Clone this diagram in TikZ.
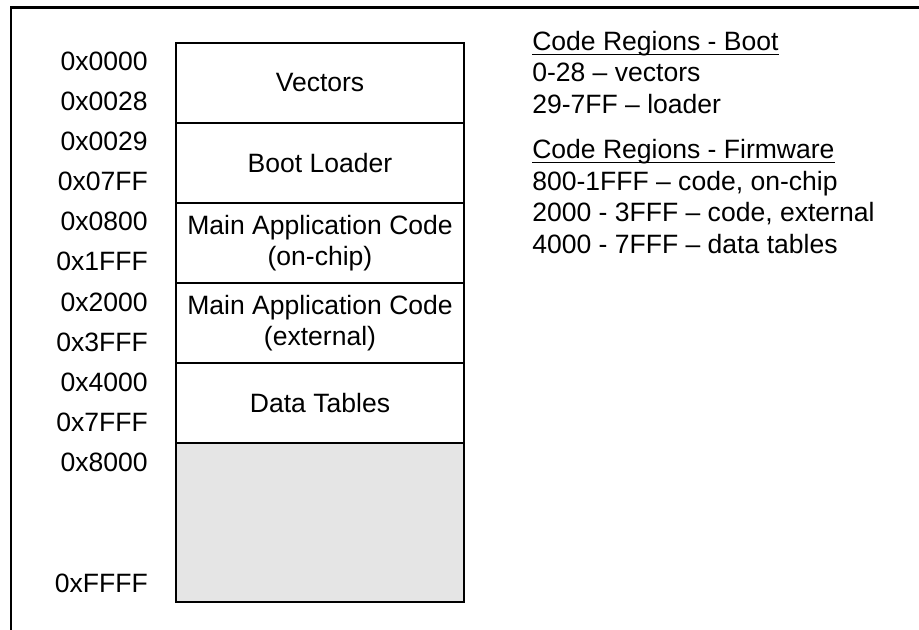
\documentclass[tikz,border=0pt]{standalone}
\usepackage{fontspec}
\setmainfont{Liberation Sans}
\usetikzlibrary{positioning}

\begin{document}
\begin{tikzpicture}[x=0.75pt,y=-0.75pt,
    region/.style={draw,line width=1.5pt,outer sep=0pt,minimum width=216pt,
        minimum height=60pt,inner sep=0pt,align=center,font=\memfont},
    addr/.style={anchor=base east,inner sep=0pt,font=\memfont},
    note/.style={anchor=base west,inner sep=0pt,font=\memfont},
    uline/.style={line width=1pt}]

\newcommand{\memfont}{\fontsize{19.9}{23.6}\selectfont}
\useasboundingbox (0,0) rectangle (919,630);

% === Page frame (top and left only) ===
\draw[line width=1.6pt] (11,635) -- (11,7.5) -- (925,7.5);

% === Memory map ===
\node[region,anchor=north west] (vec) at (176,43) {Vectors};
\node[region,below=0pt of vec] (boot) {Boot Loader};
\node[region,below=0pt of boot] (onchip) {Main Application Code\\(on-chip)};
\node[region,below=0pt of onchip] (extern) {Main Application Code\\(external)};
\node[region,below=0pt of extern] (tables) {Data Tables};
\node[region,below=0pt of tables,fill=black!10,minimum height=119.25pt] (unused) {};

% === Address labels ===
\foreach \a [count=\i] in {0x0000,0x0028,0x0029,0x07FF,0x0800,0x1FFF,
                           0x2000,0x3FFF,0x4000,0x7FFF,0x8000} {
    \node[addr] (a\i) at (148,{31+40*\i}) {\a};
}
\node[addr] (aend) at (148,592) {0xFFFF};

% === Region notes ===
\node[note] (hboot) at (532,51) {Code Regions - Boot};
\node[note] (n1) at (532,82) {0-28 -- vectors};
\node[note] (n2) at (532,114) {29-7FF -- loader};
\node[note] (hfw) at (532,159) {Code Regions - Firmware};
\node[note] (n3) at (532,191) {800-1FFF -- code, on-chip};
\node[note] (n4) at (532,222) {2000 - 3FFF -- code, external};
\node[note] (n5) at (532,254) {4000 - 7FFF -- data tables};

% underlined headings
\draw[uline] ([yshift=-2.4pt]hboot.base west) -- ([yshift=-2.4pt]hboot.base east);
\draw[uline] ([yshift=-2.4pt]hfw.base west) -- ([yshift=-2.4pt]hfw.base east);

\end{tikzpicture}
\end{document}
